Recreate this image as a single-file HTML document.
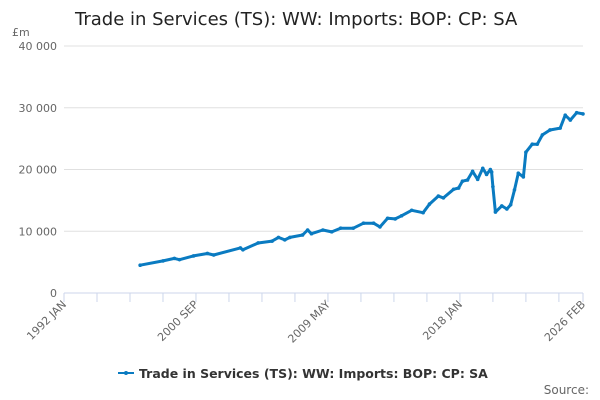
<!DOCTYPE html>
<html><head><meta charset="utf-8">
<style>
body{margin:0;background:#fff;}
svg{display:block;font-family:"DejaVu Sans","Liberation Sans",sans-serif;}
</style></head>
<body>
<svg id="chart" width="600" height="400" viewBox="0 0 600 400">
<text x="75" y="25" font-size="18" fill="#222">Trade in Services (TS): WW: Imports: BOP: CP: SA</text>
<text x="12" y="36" font-size="11" fill="#666">£m</text>
<g id="grid"></g><g id="xaxis"></g><g id="series"></g>
<g>
<line x1="118" y1="373" x2="134" y2="373" stroke="#0a7bc1" stroke-width="2"/>
<circle cx="126" cy="373" r="2" fill="#0a7bc1"/>
<text x="139" y="378" font-size="12.5" font-weight="bold" fill="#333">Trade in Services (TS): WW: Imports: BOP: CP: SA</text>
</g>
<text x="589" y="394" font-size="12" fill="#666" text-anchor="end">Source:</text>
</svg>
<script>
const yTicks=[0,10000,20000,30000,40000];
const xTickLabels=["1992 JAN","2000 SEP","2009 MAY","2018 JAN","2026 FEB"];
const xTickMonths=[0,104,208,312,409];
const months=[60,78,87,91,102,113,118,139,141,153,164,169,174,178,188,192,195,204,211,218,228,236,244,249,255,261,266,274,283,288,295,299,307,311,314,318,322,326,330,333,336,337,338,340,345,349,352,355,358,362,364,369,373,377,383,391,395,399,404,409];
const values=[4500,5200,5600,5400,6000,6400,6150,7300,7000,8100,8400,9000,8600,9000,9400,10200,9600,10200,9900,10500,10500,11300,11300,10700,12100,12000,12500,13400,13000,14400,15700,15400,16800,17000,18100,18300,19700,18400,20200,19200,20000,19600,17200,13100,14100,13600,14300,16700,19400,18800,22800,24100,24100,25600,26400,26700,28800,28000,29200,29000];
const NS="http://www.w3.org/2000/svg";
const x0=64,x1=583,y0=293,yTop=46,maxM=409,maxV=40000;
const xs=m=>x0+(x1-x0)*m/maxM;
const ys=v=>y0-(y0-yTop)*v/maxV;
function mk(tag,attrs,parent){const e=document.createElementNS(NS,tag);for(const k in attrs)e.setAttribute(k,attrs[k]);parent.appendChild(e);return e;}
const grid=document.getElementById('grid');
yTicks.forEach(v=>{
  if(v>0){const l=mk('line',{x1:x0,x2:x1,y1:ys(v),y2:ys(v),stroke:'#e0e0e0','stroke-width':1},grid);
  
  }
  const t=mk('text',{x:57,y:ys(v)+4,'font-size':11,fill:'#666','text-anchor':'end'},grid);
  t.textContent=String(v).replace(/\B(?=(\d{3})+(?!\d))/g,' ');
  
  
});
const xa=document.getElementById('xaxis');
const al=mk('line',{x1:x0,x2:x1,y1:y0,y2:y0,stroke:'#ccd6eb','stroke-width':1},xa);


for(let m=0;m<=maxM;m+=26){const t=mk('line',{x1:xs(m),x2:xs(m),y1:y0,y2:y0+9,stroke:'#ccd6eb'},xa);
  
  }
const lt=mk('line',{x1:xs(maxM),x2:xs(maxM),y1:y0,y2:y0+9,stroke:'#ccd6eb'},xa);


xTickLabels.forEach((lab,i)=>{
  const x=xs(xTickMonths[i]);
  const t=mk('text',{x:x+3,y:y0+12,'font-size':11,fill:'#666','text-anchor':'end',transform:`rotate(-45 ${x+3} ${y0+12})`},xa);
  t.textContent=lab;
  
  
});
const sg=document.getElementById('series');
const d=months.map((m,i)=>(i?'L':'M')+xs(m).toFixed(1)+','+ys(values[i]).toFixed(1)).join('');
const p=mk('path',{d:d,fill:'none',stroke:'#0a7bc1','stroke-width':3,'stroke-linejoin':'round'},sg);


months.forEach((m,i)=>{const c=mk('circle',{cx:xs(m),cy:ys(values[i]),r:1.8,fill:'#0a7bc1'},sg);
  
  });
</script>
</body></html>
